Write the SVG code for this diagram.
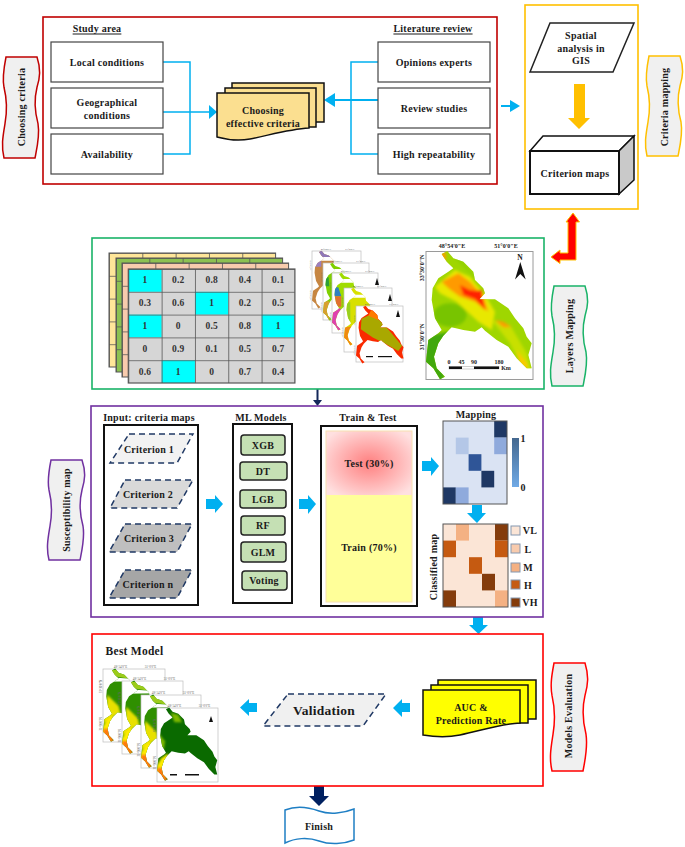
<svg xmlns="http://www.w3.org/2000/svg" width="685" height="847" viewBox="0 0 685 847">
<style>
text{font-family:"Liberation Serif","Times New Roman",serif;font-weight:bold;fill:#1a1a1a;text-anchor:middle;dominant-baseline:central;font-size:10px;letter-spacing:.25px}
.u{text-decoration:underline}
.box{fill:#fff;stroke:#444;stroke-width:1.2}
.blk{fill:#fff;stroke:#111;stroke-width:2}
.ln{fill:none;stroke:#00B0F0;stroke-width:1.5}
.ar{fill:#00B0F0;stroke:none}
.pill{fill:#C5E0B4;stroke:#222;stroke-width:1.5}
.crit{stroke:#1F3864;stroke-width:1.5;stroke-dasharray:6 4}
.doc{stroke:#111;stroke-width:1.5}
.mf{fill:#fff;stroke:#bdbdbd;stroke-width:.7}
.tiny{font-size:2.6px;letter-spacing:0;font-weight:normal;fill:#666}
.coord{font-size:6px;letter-spacing:0}
.cell{font-size:9.5px;fill:#333}
</style>
<defs>
<path id="vw" d="M2,0 H33 C37,12 36,20 33,30 C30,42 31,55 34,66 C36,78 33,90 31,100 H0 C-3,88 -1,78 1,66 C3,55 3,42 0,30 C-2,20 0,10 2,0 Z"/>
<path id="mo" d="M65,42 L82,33 100,55 130,65 160,95 165,120 190,145 195,160 178,178 225,178 265,205 285,235 310,265 320,290 335,310 325,345 335,385 320,385 290,355 265,320 230,300 195,272 185,262 165,275 130,270 95,262 70,287 55,310 42,350 50,385 75,410 60,418 40,385 18,365 25,300 55,280 65,270 45,235 35,180 38,145 55,115 85,95 100,85 80,65 Z"/>
<clipPath id="mc"><use href="#mo"/></clipPath>
<filter id="b5" x="-20%" y="-20%" width="140%" height="140%"><feGaussianBlur stdDeviation="5"/></filter>
<pattern id="cg" patternUnits="userSpaceOnUse" width="33.32" height="22.8"><path d="M0,0 H33.32 M0,0 V22.8" fill="none" stroke="#555" stroke-width="1.6"/></pattern>
<radialGradient id="tg" cx=".5" cy=".5" r=".62"><stop offset="0" stop-color="#ff8080"/><stop offset="1" stop-color="#ffe0e0"/></radialGradient>
<linearGradient id="cb" x1="0" y1="0" x2="0" y2="1"><stop offset="0" stop-color="#44688f"/><stop offset="1" stop-color="#70aaE6"/></linearGradient>
<g id="lbl">
<text class="tiny" x="14" y="-1.6">48°54'0"E</text><text class="tiny" x="38" y="-1.6">51°0'0"E</text>
<text class="tiny" transform="translate(-1.8,14) rotate(-90)">33°30'0"N</text><text class="tiny" transform="translate(-1.8,44) rotate(-90)">31°30'0"N</text>
</g>
<g id="bm">
<use href="#mo" fill="#2f8f00"/>
<g clip-path="url(#mc)"><g filter="url(#b5)">
<polygon points="40,170 100,230 110,270 60,290 20,320 15,290 35,240" fill="#e8e000"/>
<polygon points="40,300 70,280 80,340 60,425 10,420 10,350" fill="#ffec00"/>
<polygon points="15,350 55,350 75,420 30,420" fill="#ff7a10"/>
</g>
<polygon points="40,40 120,40 150,85 60,70" fill="#9ccc1a"/>
<polygon points="0,75 220,90 220,100 0,102" fill="#fff"/>
</g>
</g>
</defs>
<rect width="685" height="847" fill="#fff"/>

<g id="connectors">
<path class="ln" d="M163,62 H190 V154 H163 M163,112 H212"/>
<polygon class="ar" points="217,112 209,105 209,119"/>
<path class="ln" d="M378,62 H351 V154 H378"/>
<path d="M378,100 H330" fill="none" stroke="#00B0F0" stroke-width="2"/>
<polygon class="ar" points="324,100 335,93 335,107"/>
<path d="M501,106 H513" fill="none" stroke="#00B0F0" stroke-width="2"/>
<polygon class="ar" points="520,106 510,100 510,112"/>
<polygon points="574,84 585,84 585,118 590,118 579,129 568,118 574,118" fill="#FFC000"/>
<polygon points="573,213 579.5,222 576,222 576,260 560,260 560,263.5 551,257 560,250 560,253 568,253 568,222 566,222" fill="#FF0000" stroke="#FFC000" stroke-width="1"/>
<rect x="316.5" y="389" width="2" height="11" fill="#14285a"/>
<polygon points="313,400 322,400 317.5,406" fill="#14285a"/>
<polygon class="ar" points="206,499 215,499 215,495 223,504 215,513 215,509 206,509"/>
<polygon class="ar" points="299,499 308,499 308,495 316,504 308,514 308,509 299,509"/>
<polygon class="ar" points="422,461 431,461 431,457 439,466 431,476 431,471 422,471"/>
<polygon class="ar" points="472,505 482,505 482,513 486,513 477,523 467,513 472,513"/>
<polygon class="ar" points="473,617 483,617 483,625 488,625 478.5,634 469,625 473,625"/>
<polygon class="ar" points="257,703 257,712 249,712 249,716 240,707.5 249,699 249,703"/>
<polygon class="ar" points="410,703 410,712 402,712 402,717 393,708 402,699 402,703"/>
<polygon points="314,786 324,786 324,796 329,796 319,806 309,796 314,796" fill="#002060"/>
</g>

<g id="choosing-panel"><rect x="43" y="17" width="454" height="167" fill="none" stroke="#C00000" stroke-width="1.6"/>
<text x="97" y="28" class="u">Study area</text><text x="433" y="28" class="u">Literature review</text></g>
<g id="local"><rect class="box" x="51" y="42" width="112" height="40"/><text x="107" y="62">Local conditions</text></g>
<g id="geo"><rect class="box" x="51" y="88" width="112" height="40"/><text x="107" y="102">Geographical</text><text x="107" y="115">conditions</text></g>
<g id="avail"><rect class="box" x="51" y="134" width="112" height="40"/><text x="107" y="154">Availability</text></g>
<g id="opinions"><rect class="box" x="378" y="42" width="112" height="40"/><text x="434" y="62">Opinions experts</text></g>
<g id="review"><rect class="box" x="378" y="88" width="112" height="40"/><text x="434" y="108">Review studies</text></g>
<g id="repeat"><rect class="box" x="378" y="134" width="112" height="40"/><text x="434" y="154">High repeatability</text></g>
<g id="effective" fill="#FBDF90">
<rect class="doc" x="232" y="83" width="92" height="39"/>
<rect class="doc" x="225" y="88" width="91" height="39"/>
<path class="doc" d="M217,93 H309 V128 C290,129 270,135 250,139 C240,141 228,140 217,137 Z"/>
<text x="263" y="110">Choosing</text><text x="263" y="123">effective criteria</text></g>

<g id="criteria-mapping-panel"><rect x="525" y="5" width="113" height="204" fill="none" stroke="#FFC000" stroke-width="1.6"/></g>
<g id="spatial"><polygon points="550,23 634,23 613,72 530,72" fill="#fff" stroke="#222" stroke-width="1.5"/><text x="581" y="35">Spatial</text><text x="581" y="48">analysis in</text><text x="581" y="60.5">GIS</text></g>
<g id="criterion-maps"><polygon points="530,151 543,136 634,136 619,151" fill="#fff" stroke="#111" stroke-width="1.5"/><polygon points="619,151 634,136 634,180 619,194" fill="#c9c9c9" stroke="#111" stroke-width="1.5"/><rect x="530" y="151" width="89" height="43" fill="#fff" stroke="#111" stroke-width="2"/><text x="575" y="173">Criterion maps</text></g>

<g id="banner-choosing"><use href="#vw" transform="translate(4,57) scale(1,1.01)" fill="#f0f0f0" stroke="#C00000" stroke-width="1.5"/><text transform="translate(21,107) rotate(-90)">Choosing criteria</text></g>
<g id="banner-mapping"><use href="#vw" transform="translate(647,56)" fill="#f0f0f0" stroke="#FFC000" stroke-width="1.5"/><text transform="translate(664,107) rotate(-90)">Criteria mapping</text></g>
<g id="banner-layers"><use href="#vw" transform="translate(552,286)" fill="#f0f0f0" stroke="#19B368" stroke-width="1.5"/><text transform="translate(569,336) rotate(-90)">Layers Mapping</text></g>
<g id="banner-susceptibility"><use href="#vw" transform="translate(49,460)" fill="#f0f0f0" stroke="#7030A0" stroke-width="1.5"/><text transform="translate(66,510) rotate(-90)">Susceptibility map</text></g>
<g id="banner-evaluation"><use href="#vw" transform="translate(552,663) scale(1,1.08)" fill="#f0f0f0" stroke="#FF0000" stroke-width="1.5"/><text transform="translate(568,716) rotate(-90)">Models Evaluation</text></g>

<g id="layers-panel"><rect x="92" y="238" width="452" height="151" fill="none" stroke="#19B368" stroke-width="1.6"/></g>
<g id="grid-layers">
<g transform="translate(109,253)"><rect width="166.6" height="114" fill="#FFE699"/><rect width="166.6" height="114" fill="url(#cg)" stroke="#555"/></g>
<g transform="translate(116,258)"><rect width="166.6" height="114" fill="#8CC152"/><rect width="166.6" height="114" fill="url(#cg)" stroke="#555"/></g>
<g transform="translate(122,263)"><rect width="166.6" height="114" fill="#F8CBAD"/><rect width="166.6" height="114" fill="url(#cg)" stroke="#555"/></g>
<g transform="translate(128.3,269)"><rect width="166.6" height="114" fill="#d6d6d6"/>
<g fill="#00FFFF"><rect width="33.32" height="22.8"/><rect x="66.64" y="22.8" width="33.32" height="22.8"/><rect y="45.6" width="33.32" height="22.8"/><rect x="133.28" y="45.6" width="33.32" height="22.8"/><rect x="33.32" y="91.2" width="33.32" height="22.8"/></g>
<rect width="166.6" height="114" fill="url(#cg)" stroke="#555" stroke-width="1.2"/></g>
<g>
<text class="cell" x="145" y="280.4">1</text><text class="cell" x="178.3" y="280.4">0.2</text><text class="cell" x="211.7" y="280.4">0.8</text><text class="cell" x="245" y="280.4">0.4</text><text class="cell" x="278.3" y="280.4">0.1</text>
<text class="cell" x="145" y="303.2">0.3</text><text class="cell" x="178.3" y="303.2">0.6</text><text class="cell" x="211.7" y="303.2">1</text><text class="cell" x="245" y="303.2">0.2</text><text class="cell" x="278.3" y="303.2">0.5</text>
<text class="cell" x="145" y="326">1</text><text class="cell" x="178.3" y="326">0</text><text class="cell" x="211.7" y="326">0.5</text><text class="cell" x="245" y="326">0.8</text><text class="cell" x="278.3" y="326">1</text>
<text class="cell" x="145" y="348.8">0</text><text class="cell" x="178.3" y="348.8">0.9</text><text class="cell" x="211.7" y="348.8">0.1</text><text class="cell" x="245" y="348.8">0.5</text><text class="cell" x="278.3" y="348.8">0.7</text>
<text class="cell" x="145" y="371.6">0.6</text><text class="cell" x="178.3" y="371.6">1</text><text class="cell" x="211.7" y="371.6">0</text><text class="cell" x="245" y="371.6">0.7</text><text class="cell" x="278.3" y="371.6">0.4</text>
</g></g>

<g id="small-maps">
<rect class="mf" x="312" y="251" width="49" height="58"/><use href="#lbl" transform="translate(312,251)"/>
<g transform="translate(309.3,245.7) scale(.15)"><use href="#mo" fill="#c68642"/><g clip-path="url(#mc)"><polygon points="30,30 180,30 180,75 30,75" fill="#8f78b8"/><polygon points="30,100 80,100 80,140 30,140" fill="#9a7fc0"/><polygon points="0,75 220,75 220,100 0,100" fill="#fff"/></g></g>
<rect class="mf" x="323" y="263" width="46" height="57"/><use href="#lbl" transform="translate(323,263)"/>
<g transform="translate(320.3,257.7) scale(.15)"><use href="#mo" fill="#7fd000"/><g clip-path="url(#mc)"><polygon points="20,130 55,130 60,190 20,190" fill="#2e9e3a"/><polygon points="10,290 60,290 60,420 10,420" fill="#d8a030"/><polygon points="0,75 220,75 220,100 0,100" fill="#fff"/></g></g>
<rect class="mf" x="332" y="273" width="46" height="60"/><use href="#lbl" transform="translate(332,273)"/>
<g transform="translate(329.3,267.7) scale(.15)"><use href="#mo" fill="#9fdc00"/><g clip-path="url(#mc)"><polygon points="20,130 60,130 80,190 20,190" fill="#2f80c0"/><polygon points="20,190 80,190 80,260 20,260" fill="#e07030"/><polygon points="10,270 75,270 75,420 10,420" fill="#e040b0"/><polygon points="0,75 220,75 220,100 0,100" fill="#fff"/></g></g>
<rect class="mf" x="344" y="288" width="48" height="64"/><use href="#lbl" transform="translate(344,288)"/>
<g transform="translate(341.3,282.7) scale(.15)"><use href="#mo" fill="#d8e000"/><g clip-path="url(#mc)"><polygon points="20,130 60,130 60,270 20,270" fill="#98d020"/><polygon points="10,300 70,290 70,420 10,420" fill="#f08a10"/><polygon points="0,80 220,80 220,100 0,100" fill="#fff"/></g></g>
<rect class="mf" x="356" y="306" width="47" height="56"/><use href="#lbl" transform="translate(356,306)"/>
<g transform="translate(353.3,300.7) scale(.15)"><use href="#mo" fill="#fa2a00"/><g clip-path="url(#mc)"><g filter="url(#b5)"><polygon points="55,120 130,85 215,170 325,300 300,335 220,290 130,245 50,190" fill="#a9a800"/><polygon points="120,60 170,100 170,130 100,100" fill="#ff7a00"/></g></g></g>
<g fill="#111"><rect x="366" y="356" width="7" height="1.2"/><rect x="378" y="356" width="14" height="1.2"/></g>
<polygon points="398,310 396,317 400,317" fill="#111"/>
<polygon points="390,294 388,301 392,301" fill="#111"/>
<polygon points="377,278 375,285 379,285" fill="#111"/>
</g>

<g id="large-map">
<rect x="426" y="251.5" width="107" height="128" fill="#fff" stroke="#9a9a9a" stroke-width="1"/>
<g transform="translate(420,240) scale(.33333)">
<use href="#mo" fill="#9fd600"/>
<g clip-path="url(#mc)"><g filter="url(#b5)">
<polygon points="0,290 90,275 70,430 0,430" fill="#43a80c"/>
<ellipse cx="90" cy="225" rx="50" ry="35" fill="#78c400"/>
<polygon points="165,115 195,150 150,90 120,55 90,40" fill="#8fd000"/>
<polygon points="45,140 105,90 150,110 195,165 225,215 215,270 175,245 110,185 60,160" fill="#e8e800"/>
<polygon points="65,125 115,100 150,125 190,170 205,215 165,185 120,170 85,145" fill="#ff9a00"/>
<polygon points="215,240 270,255 320,340 335,395 300,370 270,310" fill="#c8e000"/>
<polygon points="290,330 320,370 325,392 300,370" fill="#ffc800"/>
<polygon points="225,240 250,245 275,262 250,262" fill="#ff9a00"/>
<polygon points="60,38 78,38 76,66 62,62" fill="#ff9a00"/>
<polygon points="120,135 150,150 170,152 185,150 195,210 165,178 130,165" fill="#ff2200"/>
</g></g>
</g>
<text class="coord" x="452" y="246">48°54'0"E</text><text class="coord" x="506" y="246">51°0'0"E</text>
<text class="coord" transform="translate(421.5,268) rotate(-90)">33°30'0"N</text><text class="coord" transform="translate(421.5,337) rotate(-90)">31°30'0"N</text>
<text class="coord" style="font-size:7.5px" x="520" y="257">N</text>
<polygon points="520.3,262 515,279.5 520.3,274 525.7,279.5" fill="#111"/>
<text class="coord" x="449" y="361.5">0</text><text class="coord" x="461.5" y="361.5">45</text><text class="coord" x="474" y="361.5">90</text><text class="coord" x="499" y="361.5">180</text><text class="coord" x="506" y="367.5">Km</text>
<rect x="449" y="366.5" width="50" height="2.5" fill="#fff" stroke="#888" stroke-width=".4"/><rect x="449" y="366.5" width="13" height="2.5" fill="#111"/><rect x="474" y="366.5" width="25" height="2.5" fill="#111"/>
</g>

<g id="susceptibility-panel"><rect x="91" y="406" width="452" height="211" fill="none" stroke="#7030A0" stroke-width="1.6"/></g>
<g id="input"><rect class="blk" x="104" y="425" width="94" height="180"/><text x="149" y="417">Input: criteria maps</text></g>
<g id="c1"><polygon class="crit" points="129,434 193,434 177,463 110,463" fill="#f2f2f2"/><text x="149" y="449">Criterion 1</text></g>
<g id="c2"><polygon class="crit" points="125,480 193,480 177,508 110,508" fill="#d9d9d9"/><text x="148" y="494">Criterion 2</text></g>
<g id="c3"><polygon class="crit" points="125,524 192,524 177,552 109,552" fill="#bfbfbf"/><text x="149" y="538">Criterion 3</text></g>
<g id="cn"><polygon class="crit" points="125,570 192,570 177,598 109,598" fill="#a6a6a6"/><text x="148" y="584">Criterion n</text></g>

<g id="ml"><rect class="blk" x="233" y="424" width="59" height="179"/><text x="261" y="417">ML Models</text></g>
<g id="xgb"><rect class="pill" x="241" y="435" width="44" height="20" rx="3"/><text x="263" y="445">XGB</text></g>
<g id="dt"><rect class="pill" x="240" y="462" width="47" height="18" rx="3"/><text x="263" y="471">DT</text></g>
<g id="lgb"><rect class="pill" x="240" y="490" width="46" height="18" rx="3"/><text x="263" y="499">LGB</text></g>
<g id="rf"><rect class="pill" x="241" y="516" width="44" height="19" rx="3"/><text x="263" y="525.5">RF</text></g>
<g id="glm"><rect class="pill" x="241" y="542" width="45" height="20" rx="3"/><text x="263" y="552">GLM</text></g>
<g id="voting"><rect class="pill" x="242" y="571" width="45" height="19" rx="3"/><text x="264" y="580.5">Voting</text></g>

<g id="train-test"><rect class="blk" x="321" y="426" width="96" height="180"/><text x="368" y="417">Train &amp; Test</text>
<rect x="326" y="431" width="86" height="64" fill="url(#tg)"/><rect x="326" y="495" width="86" height="107" fill="#FFFF99"/>
<rect x="326" y="431" width="86" height="171" fill="none" stroke="#F8E0B0" stroke-width="1"/>
<text x="369" y="463">Test (30%)</text><text x="369" y="547">Train (70%)</text></g>

<g id="mapping"><text x="476" y="414.5">Mapping</text>
<rect x="443" y="421" width="64" height="83" fill="#DAE3F3"/>
<rect x="494.2" y="421" width="12.8" height="16.6" fill="#1F3864"/><rect x="455.8" y="437.6" width="12.8" height="16.6" fill="#B4C7E7"/><rect x="494.2" y="437.6" width="12.8" height="16.6" fill="#8FAADC"/><rect x="468.6" y="454.2" width="12.8" height="16.6" fill="#2F5597"/><rect x="481.4" y="470.8" width="12.8" height="16.6" fill="#1F3864"/><rect x="443" y="487.4" width="12.8" height="16.6" fill="#1F3864"/><rect x="455.8" y="487.4" width="12.8" height="16.6" fill="#8FAADC"/>
<rect x="443" y="421" width="64" height="83" fill="none" stroke="#555" stroke-width="1"/>
<rect x="512" y="438" width="7" height="49" fill="url(#cb)"/>
<text x="523" y="438.5">1</text><text x="523" y="487">0</text></g>

<g id="classified"><text transform="translate(433,567) rotate(-90)">Classified map</text>
<rect x="443" y="524" width="65" height="83" fill="#FBE5D6"/>
<rect x="456" y="524" width="13" height="16.6" fill="#F4B183"/><rect x="495" y="524" width="13" height="16.6" fill="#843C0C"/><rect x="443" y="540.6" width="13" height="16.6" fill="#C55A11"/><rect x="495" y="540.6" width="13" height="16.6" fill="#C55A11"/><rect x="469" y="557.2" width="13" height="16.6" fill="#C55A11"/><rect x="482" y="573.8" width="13" height="16.6" fill="#843C0C"/><rect x="443" y="590.4" width="13" height="16.6" fill="#843C0C"/><rect x="495" y="590.4" width="13" height="16.6" fill="#F4B183"/>
<rect x="443" y="524" width="65" height="83" fill="none" stroke="#555" stroke-width="1"/>
<g stroke="#8497B0" stroke-width="1"><rect x="511" y="526" width="9" height="9" fill="#FBE5D6"/><rect x="511" y="544" width="9" height="9" fill="#F8CBAD"/><rect x="511" y="563" width="9" height="9" fill="#F4B183"/><rect x="511" y="580" width="9" height="9" fill="#C55A11"/><rect x="511" y="598" width="9" height="9" fill="#843C0C"/></g>
<text x="530" y="530">VL</text><text x="528" y="549">L</text><text x="528" y="567">M</text><text x="528" y="585">H</text><text x="530" y="602.5">VH</text></g>

<g id="evaluation-panel"><rect x="92" y="634" width="451" height="152" fill="none" stroke="#FF0000" stroke-width="1.6"/><text x="134.5" y="651" style="font-size:11.5px">Best Model</text></g>
<g id="best-maps">
<rect class="mf" x="103" y="669" width="62" height="73"/><use href="#lbl" transform="translate(103,669) scale(1.25)"/><use href="#bm" transform="translate(99.6,662.35) scale(.19)"/>
<rect class="mf" x="122" y="681" width="61" height="73"/><use href="#lbl" transform="translate(122,681) scale(1.25)"/><use href="#bm" transform="translate(118.6,674.35) scale(.19)"/>
<rect class="mf" x="141" y="695" width="60" height="73"/><use href="#lbl" transform="translate(141,695) scale(1.25)"/><use href="#bm" transform="translate(137.6,688.35) scale(.19)"/>
<rect class="mf" x="157" y="708" width="61" height="74"/><use href="#lbl" transform="translate(157,708) scale(1.25)"/>
<g transform="translate(153.6,701.35) scale(.19)"><use href="#mo" fill="#0a6a00"/><g clip-path="url(#mc)"><g filter="url(#b5)"><polygon points="25,165 60,210 55,250 30,250" fill="#7db800"/><polygon points="40,300 75,275 85,340 60,425 10,420 10,350" fill="#ffec00"/><polygon points="15,350 45,350 75,420 30,420" fill="#ff7a10"/><polygon points="90,60 130,70 150,110 110,110" fill="#7db800"/></g></g></g>
<polygon points="211,716 209,722 213,722" fill="#111"/>
<rect x="170" y="774" width="7" height="1.5" fill="#111"/><rect x="185" y="774" width="14" height="1.5" fill="#111"/>
</g>
<g id="validation"><polygon class="crit" points="288,694 386,694 363,726 263,726" fill="#f0f0f0"/><text x="324" y="710" style="font-size:13.5px">Validation</text></g>
<g id="auc"><g fill="#FFFF00"><rect class="doc" x="438" y="680" width="98" height="39"/><rect class="doc" x="431" y="685" width="97" height="38"/><path class="doc" d="M423,690 H520 V723 C500,724 480,731 460,735 C450,737 435,737 423,735 Z"/></g>
<text x="471" y="707">AUC &amp;</text><text x="471" y="720">Prediction Rate</text></g>
<g id="finish"><path d="M285,810 C295,806 308,807 319,811 C330,815 344,813 354,809 V840 C344,844 330,845 319,841 C308,837 295,838 285,843 Z" fill="#fff" stroke="#1F7FC4" stroke-width="1.5"/><text x="319" y="826">Finish</text></g>
</svg>
